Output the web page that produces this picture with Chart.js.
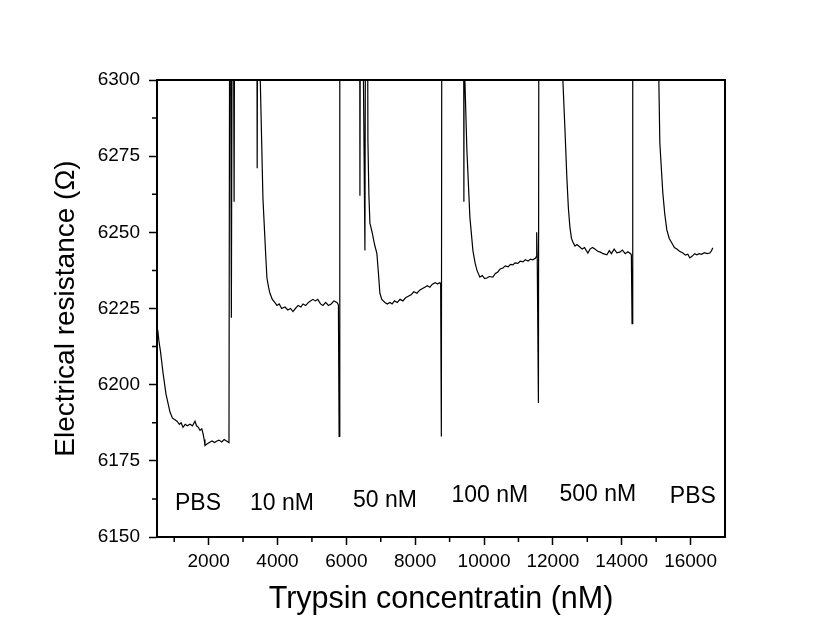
<!DOCTYPE html>
<html>
<head>
<meta charset="utf-8">
<script src="https://cdn.jsdelivr.net/npm/chart.js@4.4.1/dist/chart.umd.min.js"></script>
<style>
  body { margin: 0; background: #fff; }
</style>
</head>
<body>
<canvas id="trace" width="825" height="635"></canvas>
<script>
// trace, one pair of arrays per phase (x in nM axis units, y in ohm)
// values above 6300 are off the plot and only set where the spikes leave the frame
const pbsX = [520, 560, 600, 674, 760, 877, 950, 1020, 1081, 1150, 1200, 1255, 1320, 1380, 1458, 1530, 1603, 1650, 1700, 1749, 1800, 1836, 1870, 1894, 1950, 2020, 2100, 2170, 2242, 2300, 2380, 2450, 2520, 2591,
  2620, 2660, 2700, 2740, 2770];
const pbsY = [6218, 6214, 6211, 6204, 6197, 6191, 6189, 6188.5, 6188, 6187, 6187.5, 6186, 6187, 6186.5, 6187, 6186.5, 6188, 6186.5, 6186, 6185, 6185.5, 6184, 6182, 6180, 6180.5, 6181, 6181.5, 6181, 6181.5, 6181.8, 6181.2, 6182, 6181.5, 6181,
  6400, 6222, 6400, 6260, 6400];

const nM10X = [3390, 3410, 3440, 3500, 3578, 3665, 3694, 3740, 3781, 3850, 3920, 3985, 4050, 4120, 4217, 4300, 4380, 4449, 4520, 4600, 4680, 4740, 4820, 4900, 4960, 5030, 5100, 5170, 5250, 5320, 5400, 5480, 5560, 5640, 5727, 5756,
  5770, 5790, 5810];
const nM10Y = [6400, 6271, 6400, 6300, 6261, 6241, 6235, 6232, 6230, 6228, 6227, 6226, 6226.5, 6225, 6225.5, 6224.5, 6225, 6224, 6225, 6226, 6225.5, 6226.5, 6226, 6227, 6227.5, 6228, 6227.5, 6228, 6226.5, 6226, 6227, 6226, 6226.5, 6227.5, 6227, 6226.5,
  6226, 6183, 6400];

const nM50X = [6380, 6395, 6420, 6540, 6570, 6600, 6627, 6656, 6685, 6750, 6820, 6888, 6930, 6975, 7030, 7121, 7190, 7266, 7330, 7400, 7480, 7560, 7644, 7720, 7800, 7880, 7960, 8050, 8130, 8200, 8280, 8350, 8428, 8500, 8580, 8650, 8718,
  8740, 8760, 8780];
const nM50Y = [6400, 6262, 6400, 6244, 6400, 6400, 6280, 6262, 6253, 6250, 6246, 6243, 6237, 6230, 6228, 6227, 6226.5, 6227, 6226.5, 6227.5, 6227, 6228, 6227.5, 6228.5, 6229, 6229.5, 6230.5, 6230, 6231, 6231.5, 6232, 6232.5, 6232, 6233, 6233.5, 6233, 6233.5,
  6233, 6183, 6400];

const nM100X = [9400, 9415, 9430, 9444, 9502, 9589, 9677, 9740, 9793, 9880, 9950, 10020, 10083, 10150, 10257, 10330, 10400, 10470, 10548, 10620, 10700, 10770, 10838, 10900, 10980, 11050, 11129, 11200, 11280, 11350, 11419, 11490, 11520, 11530, 11545,
  11560, 11580, 11600];
const nM100Y = [6400, 6260, 6400, 6300, 6277, 6255, 6244, 6240, 6237.6, 6235.3, 6235.8, 6234.8, 6235, 6235.5, 6235.3, 6236.5, 6237, 6238, 6238.3, 6239, 6238.7, 6239.5, 6239.3, 6240, 6239.8, 6240.5, 6240.3, 6241, 6240.6, 6241.2, 6241, 6241.5, 6242, 6250, 6242,
  6242, 6194, 6400];

const nM500X = [12250, 12290, 12348, 12406, 12450, 12494, 12540, 12581, 12640, 12700, 12784, 12850, 12920, 13016, 13080, 13150, 13220, 13300, 13380, 13460, 13568, 13640, 13700, 13780, 13860, 13946, 14020, 14100, 14180, 14265,
  14280, 14300, 14320];
const nM500Y = [6340, 6300, 6284.6, 6268, 6258, 6251.8, 6248, 6246.8, 6245.5, 6246, 6245.2, 6244.5, 6245, 6243.2, 6244.5, 6245, 6244.5, 6243.8, 6243.5, 6243, 6242.6, 6244, 6243, 6244.5, 6243.3, 6243.5, 6244.2, 6243, 6243.6, 6242.9,
  6242.5, 6220, 6400];

const pbs2X = [15040, 15078, 15107, 15194, 15250, 15310, 15380, 15456, 15530, 15600, 15680, 15775, 15850, 15920, 15978, 16050, 16120, 16182, 16250, 16320, 16400, 16480, 16559, 16600, 16646];
const pbs2Y = [6350, 6300, 6279.3, 6262.9, 6256, 6250.8, 6248, 6246.5, 6245, 6244.5, 6243.8, 6243.2, 6242.5, 6242.8, 6241.6, 6242.2, 6243, 6242.6, 6243, 6242.8, 6243.3, 6243, 6243.2, 6243.8, 6244.9];

const phaseLabels = ['PBS', '10 nM', '50 nM', '100 nM', '500 nM', 'PBS'];
const phaseLabelX = [1691, 4130, 7121, 10170, 13307, 16065];
const phaseLabelY = [6158.9, 6158.9, 6159.9, 6161.5, 6161.8, 6161.2];

const xTicks = [2000, 4000, 6000, 8000, 10000, 12000, 14000, 16000];
const yTicks = [6150, 6175, 6200, 6225, 6250, 6275, 6300];

const FONT = 'Liberation Sans, Arial, sans-serif';

const allX = [].concat(pbsX, nM10X, nM50X, nM100X, nM500X, pbs2X);
const allY = [].concat(pbsY, nM10Y, nM50Y, nM100Y, nM500Y, pbs2Y);
const points = allX.map((x, i) => ({ x: x, y: allY[i] }));

const minorTicks = {
  id: 'minorTicks',
  afterDraw(chart) {
    const { ctx, chartArea, scales } = chart;
    ctx.save();
    ctx.strokeStyle = '#000';
    ctx.lineWidth = 1.5;
    ctx.beginPath();
    for (let v = 1000; v < 17000; v += 2000) {
      const px = scales.x.getPixelForValue(v);
      ctx.moveTo(px, chartArea.bottom);
      ctx.lineTo(px, chartArea.bottom + 5);
    }
    for (let v = 6162.5; v < 6300; v += 25) {
      const py = scales.y.getPixelForValue(v);
      ctx.moveTo(chartArea.left, py);
      ctx.lineTo(chartArea.left - 5, py);
    }
    ctx.stroke();
    // frame
    ctx.lineWidth = 2;
    ctx.strokeRect(chartArea.left, chartArea.top, chartArea.right - chartArea.left, chartArea.bottom - chartArea.top);
    // phase labels
    ctx.fillStyle = '#000';
    ctx.font = '23px ' + FONT;
    ctx.textAlign = 'center';
    ctx.textBaseline = 'alphabetic';
    phaseLabels.forEach((t, i) => {
      ctx.fillText(t, scales.x.getPixelForValue(phaseLabelX[i]), scales.y.getPixelForValue(phaseLabelY[i]));
    });
    ctx.restore();
  }
};

const ctx = document.getElementById('trace').getContext('2d');

const config = {
  type: 'scatter',
  data: {
    datasets: [
      {
        label: 'Electrical resistance',
        data: points,
        showLine: true,
        borderColor: '#000',
        borderWidth: 1.2,
        pointRadius: 0,
        tension: 0
      }
    ]
  },
  options: {
    responsive: false,
    animation: false,
    layout: { padding: { top: 80, right: 100, left: 0, bottom: 0 } },
    plugins: {
      legend: { display: false },
      tooltip: { enabled: false }
    },
    scales: {
      x: {
        type: 'linear',
        min: 500,
        max: 17000,
        afterBuildTicks: (scale) => { scale.ticks = xTicks.map(v => ({ value: v })); },
        afterFit: (scale) => { scale.height = 98; },
        border: { display: false },
        grid: { drawOnChartArea: false, tickLength: 8, tickColor: '#000', tickWidth: 1.5 },
        ticks: {
          color: '#000',
          padding: 5,
          maxRotation: 0,
          font: { family: FONT, size: 19 },
          callback: (v) => String(v)
        },
        title: {
          display: true,
          text: 'Trypsin concentratin (nM)',
          color: '#000',
          font: { family: FONT, size: 30.5, lineHeight: 1 },
          padding: { top: 0, bottom: 20 }
        }
      },
      y: {
        min: 6150,
        max: 6300,
        afterBuildTicks: (scale) => { scale.ticks = yTicks.map(v => ({ value: v })); },
        afterFit: (scale) => { scale.width = 157; },
        border: { display: false },
        grid: { drawOnChartArea: false, tickLength: 8, tickColor: '#000', tickWidth: 1.5 },
        ticks: {
          color: '#000',
          padding: 9,
          font: { family: FONT, size: 19 },
          callback: (v) => String(v)
        },
        title: {
          display: true,
          text: 'Electrical resistance (\u03A9)',
          color: '#000',
          font: { family: FONT, size: 28, lineHeight: 1 },
          padding: { top: 52, bottom: 0 }
        }
      }
    }
  },
  plugins: [minorTicks]
};

var resistanceChart = new Chart(ctx, config);
</script>
</body>
</html>
